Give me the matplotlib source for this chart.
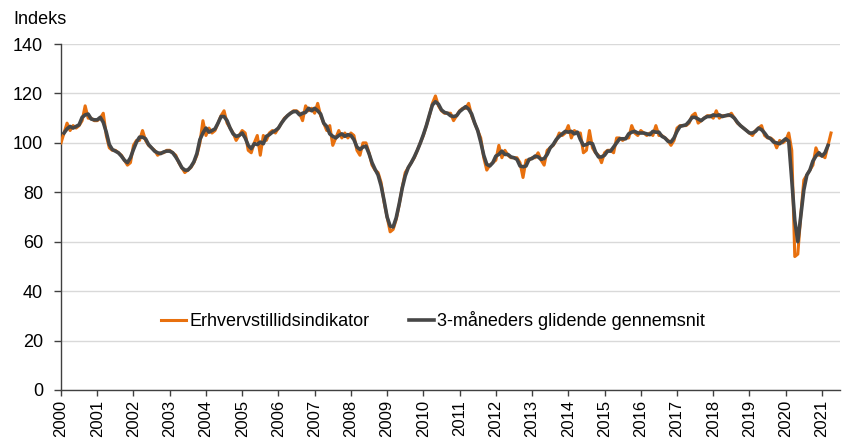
import numpy as np
import pandas as pd
import matplotlib
matplotlib.use('Agg')
import matplotlib.pyplot as plt

plt.rcParams['font.family'] = ['Liberation Sans', 'DejaVu Sans']

# Monthly business confidence indicator, Jan 2000 - Apr 2021
y2000 = [100, 104, 108, 105, 107, 106, 107, 109, 115, 110, 110, 109]
y2001 = [109, 110, 112, 103, 98, 97, 97, 96, 95, 93, 91, 92]
y2002 = [99, 101, 101, 105, 101, 99, 98, 97, 95, 96, 96, 97]
y2003 = [97, 96, 95, 92, 90, 88, 89, 90, 92, 95, 100, 109]
y2004 = [103, 106, 104, 105, 108, 111, 113, 108, 106, 104, 101, 103]
y2005 = [105, 104, 97, 96, 100, 103, 95, 103, 101, 104, 105, 104]
y2006 = [106, 108, 110, 111, 112, 113, 113, 112, 109, 115, 113, 114]
y2007 = [112, 116, 111, 108, 105, 107, 99, 102, 105, 102, 104, 102]
y2008 = [104, 103, 97, 95, 100, 100, 96, 91, 89, 88, 84, 76]
y2009 = [70, 64, 65, 69, 75, 82, 88, 90, 92, 94, 97, 100]
y2010 = [103, 107, 111, 116, 119, 115, 113, 112, 112, 112, 109, 111]
y2011 = [113, 114, 114, 116, 111, 108, 105, 102, 94, 89, 91, 92]
y2012 = [93, 99, 94, 97, 95, 94, 94, 94, 92, 86, 93, 93]
y2013 = [94, 94, 96, 93, 91, 97, 98, 99, 101, 104, 103, 104]
y2014 = [107, 102, 105, 104, 104, 96, 97, 105, 98, 96, 95, 92]
y2015 = [96, 97, 97, 96, 102, 102, 101, 102, 102, 107, 104, 103]
y2016 = [105, 104, 103, 104, 103, 107, 103, 103, 102, 101, 99, 101]
y2017 = [106, 107, 107, 107, 108, 111, 112, 108, 109, 110, 111, 111]
y2018 = [110, 113, 110, 111, 111, 111, 112, 110, 108, 107, 106, 105]
y2019 = [104, 103, 105, 106, 107, 103, 102, 102, 101, 98, 101, 100]
y2020 = [101, 104, 97, 54, 55, 71, 85, 87, 89, 91, 98, 95]
y2021 = [95, 94, 99, 104]

years = list(range(2000, 2022))
indicator = (y2000 + y2001 + y2002 + y2003 + y2004 + y2005 + y2006 + y2007
             + y2008 + y2009 + y2010 + y2011 + y2012 + y2013 + y2014 + y2015
             + y2016 + y2017 + y2018 + y2019 + y2020 + y2021)

s = pd.Series(indicator, dtype=float)
avg3 = s.rolling(3, center=True).mean()
months = np.arange(len(s))

fig = plt.figure(figsize=(8.46, 4.45), dpi=100)
ax = fig.add_axes([0.0721, 0.1236, 0.9209, 0.7774])

ax.plot(months, s, color='#E8700E', lw=2.2, label='Erhvervstillidsindikator', zorder=3)
ax.plot(months, avg3, color='#474747', lw=2.6, label='3-måneders glidende gennemsnit', zorder=4)

ax.set_ylim(0, 140)
ax.set_yticks(range(0, 141, 20))
ax.set_xlim(0, 258)
ax.set_xticks([12 * i for i in range(len(years))])
ax.set_xticklabels([str(y) for y in years], rotation=90)

ax.grid(axis='y', color='#D9D9D9', lw=1)
ax.set_axisbelow(True)
for side in ['top', 'right']:
    ax.spines[side].set_visible(False)
for side in ['left', 'bottom']:
    ax.spines[side].set_color('#404040')
    ax.spines[side].set_linewidth(1)

ax.tick_params(axis='both', colors='#404040', labelcolor='black', width=1)
ax.tick_params(axis='y', labelsize=13, length=5, pad=8)
ax.tick_params(axis='x', labelsize=12, length=4, pad=3)

fig.text(0.0154, 0.946, 'Indeks', fontsize=13, va='baseline')

ax.legend(loc='center', bbox_to_anchor=(0.4775, 0.20), ncol=2, frameon=False,
          fontsize=13, handlelength=1.4, handletextpad=0.15, columnspacing=2.2)

fig.savefig('out.png', dpi=100)
